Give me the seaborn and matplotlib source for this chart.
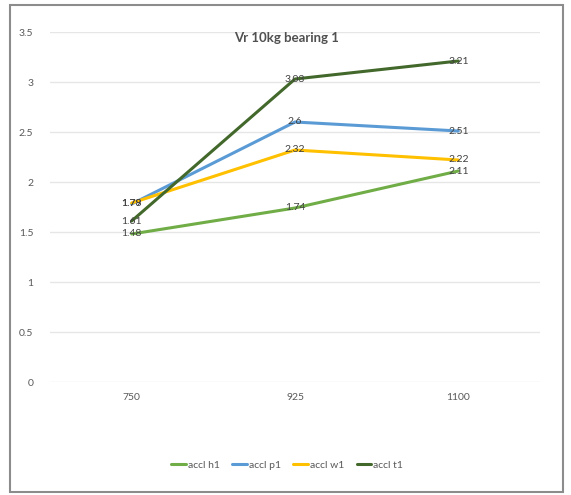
import matplotlib
matplotlib.use("Agg")
import matplotlib.pyplot as plt
import seaborn as sns
import pandas as pd
from matplotlib.patches import Rectangle

speeds = [750, 925, 1100]
accl_h1 = [1.48, 1.74, 2.11]
accl_p1 = [1.78, 2.60, 2.51]
accl_w1 = [1.79, 2.32, 2.22]
accl_t1 = [1.61, 3.03, 3.21]
series_names = ["accl h1", "accl p1", "accl w1", "accl t1"]
series_colors = ["#70AD47", "#5B9BD5", "#FFC000", "#43682B"]
y_ticks = [0, 0.5, 1, 1.5, 2, 2.5, 3, 3.5]
y_tick_labels = ["0", "0.5", "1", "1.5", "2", "2.5", "3", "3.5"]
title = "Vr 10kg bearing 1"

rows = []
for name, vals in zip(series_names, [accl_h1, accl_p1, accl_w1, accl_t1]):
    for s, v in zip(speeds, vals):
        rows.append({"speed": s, "value": v, "series": name})
df = pd.DataFrame(rows)

sns.set_theme(style="white")
plt.rcParams["font.family"] = ["Lato", "DejaVu Sans"]

fig = plt.figure(figsize=(5.71, 4.95), dpi=100)
ax = fig.add_axes([50 / 571, 1 - 382 / 495, 490 / 571, 350 / 495])

sns.lineplot(data=df, x="speed", y="value", hue="series",
             palette=dict(zip(series_names, series_colors)),
             linewidth=2.2, ax=ax, legend=False, sort=False)

# value labels centred on each point
for name in series_names:
    sub = df[df["series"] == name]
    for s, v in zip(sub["speed"], sub["value"]):
        ax.text(s, v, f"{v:g}", ha="center", va="center",
                fontsize=7.5, color="#404040", zorder=5)

step = speeds[1] - speeds[0]
ax.set_xlim(speeds[0] - step / 2, speeds[-1] + step / 2)
ax.set_ylim(0, 3.5)
ax.set_xticks(speeds)
ax.set_xticklabels([str(s) for s in speeds])
ax.set_yticks(y_ticks)
ax.set_yticklabels(y_tick_labels)
ax.tick_params(axis="both", labelsize=7.5, labelcolor="#595959", length=0)
ax.tick_params(axis="x", pad=8)
ax.tick_params(axis="y", pad=12)
ax.grid(axis="y", color="#E6E6E6", linewidth=1)
ax.grid(axis="x", visible=False)
for sp in ax.spines.values():
    sp.set_visible(False)
ax.set_xlabel("")
ax.set_ylabel("")

fig.text(287 / 571, 1 - 38 / 495, title, ha="center", va="center",
         fontsize=9.5, fontweight="bold", color="#505050")

handles = [plt.Line2D([], [], color=c, linewidth=2.2) for c in series_colors]
fig.legend(handles, series_names, loc="center", ncol=4,
           bbox_to_anchor=(287 / 571, 1 - 465 / 495), frameon=False,
           fontsize=7.5, handlelength=1.4, handletextpad=0.2,
           columnspacing=1.2, labelcolor="#595959")

fig.patches.append(Rectangle((10 / 571, 1 - 492 / 495), 553 / 571, 487 / 495,
                             transform=fig.transFigure, fill=False,
                             edgecolor="#8C8C8C", linewidth=1.5))

fig.savefig("out.png", dpi=100, facecolor="white")
